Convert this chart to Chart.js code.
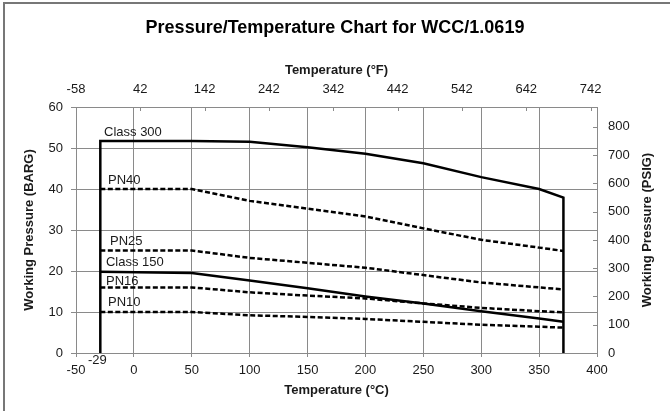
<!DOCTYPE html>
<html>
<head>
<meta charset="utf-8">
<script src="https://cdn.jsdelivr.net/npm/chart.js@4.4.1/dist/chart.umd.min.js"></script>
<style>
  html, body { margin: 0; padding: 0; background: #fff; }
  #wrap { width: 670px; height: 411px; position: relative; }
</style>
</head>
<body>
<div id="wrap"><canvas id="c" width="670" height="411"></canvas></div>
<script>
// ---- Data ----
const tempsC   = [-29, 50, 100, 150, 200, 250, 300, 350, 371];
const class300 = [51.7, 51.7, 51.5, 50.2, 48.6, 46.3, 42.9, 40.0, 37.9];
const class150 = [19.8, 19.5, 17.7, 15.8, 13.8, 12.1, 10.2, 8.4, 7.6];
const pn40     = [40, 40, 37.1, 35.2, 33.3, 30.4, 27.6, 25.7, 24.9];
const pn25     = [25, 25, 23.2, 22.0, 20.8, 19.0, 17.2, 16.0, 15.5];
const pn16     = [16, 16, 14.8, 14.0, 13.3, 12.1, 11.0, 10.2, 9.9];
const pn10     = [10, 10, 9.2, 8.8, 8.3, 7.6, 6.9, 6.4, 6.2];

const xTicksC   = [-50, 0, 50, 100, 150, 200, 250, 300, 350, 400];
const yTicksBar = [0, 10, 20, 30, 40, 50, 60];
const xTicksF   = [-58, 42, 142, 242, 342, 442, 542, 642, 742];
const yTicksPsi = [0, 100, 200, 300, 400, 500, 600, 700, 800];

const seriesLabels = ['Class 300', 'PN40', 'PN25', 'Class 150', 'PN16', 'PN10'];
const labelAnchorT = [-25.8, -22.4, -20.6, -24.1, -24.1, -22.4];
const labelAnchorP = [53.9, 42.2, 27.1, 22.0, 17.4, 12.3];

const minLabel = '-29';
const rightTitle = 'Working Pressure (PSIG)';

// ---- helpers ----
const pts = (xs, ys) => xs.map((x, i) => ({ x: x, y: ys[i] }));
const withDrops = (xs, ys) => [{ x: xs[0], y: 0 }, ...pts(xs, ys), { x: xs[xs.length - 1], y: 0 }];

const FONT = "'Liberation Sans', Arial, Helvetica, sans-serif";
const GRID = '#8a8a8a';
const TXT = '#1a1a1a';
const C2F = c => c * 9 / 5 + 32;
const BAR2PSI = 14.5038;

const solid = (label, data) => ({ label, data, borderColor: '#000', borderWidth: 2.5, pointRadius: 0, showLine: true, fill: false, tension: 0 });
const dashed = (label, data) => ({ label, data, borderColor: '#000', borderWidth: 2.5, borderDash: [5, 2.5], pointRadius: 0, showLine: true, fill: false, tension: 0 });

const decor = {
  id: 'decor',
  beforeDraw(chart) {
    const ctx = chart.ctx;
    ctx.save();
    ctx.fillStyle = '#fff';
    ctx.fillRect(0, 0, chart.width, chart.height);
    ctx.strokeStyle = '#777';
    ctx.lineWidth = 2;
    ctx.beginPath();
    ctx.moveTo(4, chart.height);
    ctx.lineTo(4, 3);
    ctx.lineTo(chart.width, 3);
    ctx.stroke();
    ctx.restore();
  },
  afterDraw(chart) {
    const ctx = chart.ctx;
    const xs = chart.scales.x, ys = chart.scales.y, x2 = chart.scales.x2, y2 = chart.scales.y2;
    ctx.save();
    // inward tick marks for secondary axes
    ctx.strokeStyle = GRID;
    ctx.lineWidth = 1;
    ctx.beginPath();
    x2.ticks.forEach(t => {
      const px = Math.round(x2.getPixelForValue(t.value)) + 0.5;
      ctx.moveTo(px, x2.bottom);
      ctx.lineTo(px, x2.bottom + 4);
    });
    y2.ticks.forEach(t => {
      const py = Math.round(y2.getPixelForValue(t.value)) + 0.5;
      ctx.moveTo(y2.left, py);
      ctx.lineTo(y2.left - 4, py);
    });
    ctx.stroke();
    // series labels
    ctx.fillStyle = TXT;
    ctx.font = '13px ' + FONT;
    ctx.textAlign = 'left';
    ctx.textBaseline = 'middle';
    seriesLabels.forEach((s, i) => {
      ctx.fillText(s, xs.getPixelForValue(labelAnchorT[i]), ys.getPixelForValue(labelAnchorP[i]));
    });
    // min temperature label
    ctx.textAlign = 'center';
    ctx.fillText(minLabel, xs.getPixelForValue(tempsC[0]) - 3, ys.bottom + 7);
    // right axis title, reading bottom-to-top
    ctx.font = 'bold 13px ' + FONT;
    ctx.translate(y2.right - 23, (y2.top + y2.bottom) / 2);
    ctx.rotate(-Math.PI / 2);
    ctx.fillText(rightTitle, 0, 0);
    ctx.restore();
  }
};

new Chart(document.getElementById('c'), {
  type: 'scatter',
  data: {
    datasets: [
      solid('Class 300', withDrops(tempsC, class300)),
      solid('Class 150', pts(tempsC, class150)),
      dashed('PN40', pts(tempsC, pn40)),
      dashed('PN25', pts(tempsC, pn25)),
      dashed('PN16', pts(tempsC, pn16)),
      dashed('PN10', pts(tempsC, pn10))
    ]
  },
  options: {
    responsive: false,
    animation: false,
    devicePixelRatio: 1,
    layout: { padding: 0 },
    plugins: {
      legend: { display: false },
      tooltip: { enabled: false },
      title: {
        display: true,
        text: 'Pressure/Temperature Chart for WCC/1.0619',
        color: '#000',
        font: { family: FONT, size: 18, weight: 'bold' },
        padding: { top: 17, bottom: 0 }
      }
    },
    scales: {
      x: {
        type: 'linear', position: 'bottom', min: -50, max: 400,
        afterBuildTicks: s => { s.ticks = xTicksC.map(v => ({ value: v })); },
        afterFit: s => { s.height = 58; },
        grid: { color: GRID, lineWidth: 1, drawTicks: true, tickLength: 4, tickColor: GRID },
        border: { color: GRID, width: 1 },
        ticks: { color: TXT, font: { family: FONT, size: 13 }, padding: 6, maxRotation: 0, autoSkip: false },
        title: { display: true, text: 'Temperature (\u00B0C)', color: TXT, font: { family: FONT, size: 13, weight: 'bold' }, padding: { top: 0, bottom: 13 } }
      },
      x2: {
        type: 'linear', position: 'top', min: C2F(-50), max: C2F(400),
        afterBuildTicks: s => { s.ticks = xTicksF.map(v => ({ value: v })); },
        afterFit: s => { s.height = 68.4; },
        grid: { display: false, drawTicks: false },
        border: { color: GRID, width: 1 },
        ticks: { color: TXT, font: { family: FONT, size: 13 }, padding: 10, maxRotation: 0, autoSkip: false },
        title: { display: true, text: 'Temperature (\u00B0F)', color: TXT, font: { family: FONT, size: 13, weight: 'bold' }, padding: { top: 24, bottom: 0 } }
      },
      y: {
        type: 'linear', position: 'left', min: 0, max: 60,
        afterBuildTicks: s => { s.ticks = yTicksBar.map(v => ({ value: v })); },
        afterFit: s => { s.width = 76; },
        grid: { color: GRID, lineWidth: 1, drawTicks: true, tickLength: 5, tickColor: GRID },
        border: { color: GRID, width: 1 },
        ticks: { color: TXT, font: { family: FONT, size: 13 }, padding: 8, autoSkip: false },
        title: { display: true, text: 'Working Pressure (BARG)', color: TXT, font: { family: FONT, size: 13, weight: 'bold' }, padding: { top: 22, bottom: 0 } }
      },
      y2: {
        type: 'linear', position: 'right', min: 0, max: 60 * BAR2PSI,
        afterBuildTicks: s => { s.ticks = yTicksPsi.map(v => ({ value: v })); },
        afterFit: s => { s.width = 73; },
        grid: { display: false, drawTicks: false },
        border: { color: GRID, width: 1 },
        ticks: { color: TXT, font: { family: FONT, size: 13 }, padding: 11, autoSkip: false },
        title: { display: false }
      }
    }
  },
  plugins: [decor]
});
</script>
</body>
</html>
